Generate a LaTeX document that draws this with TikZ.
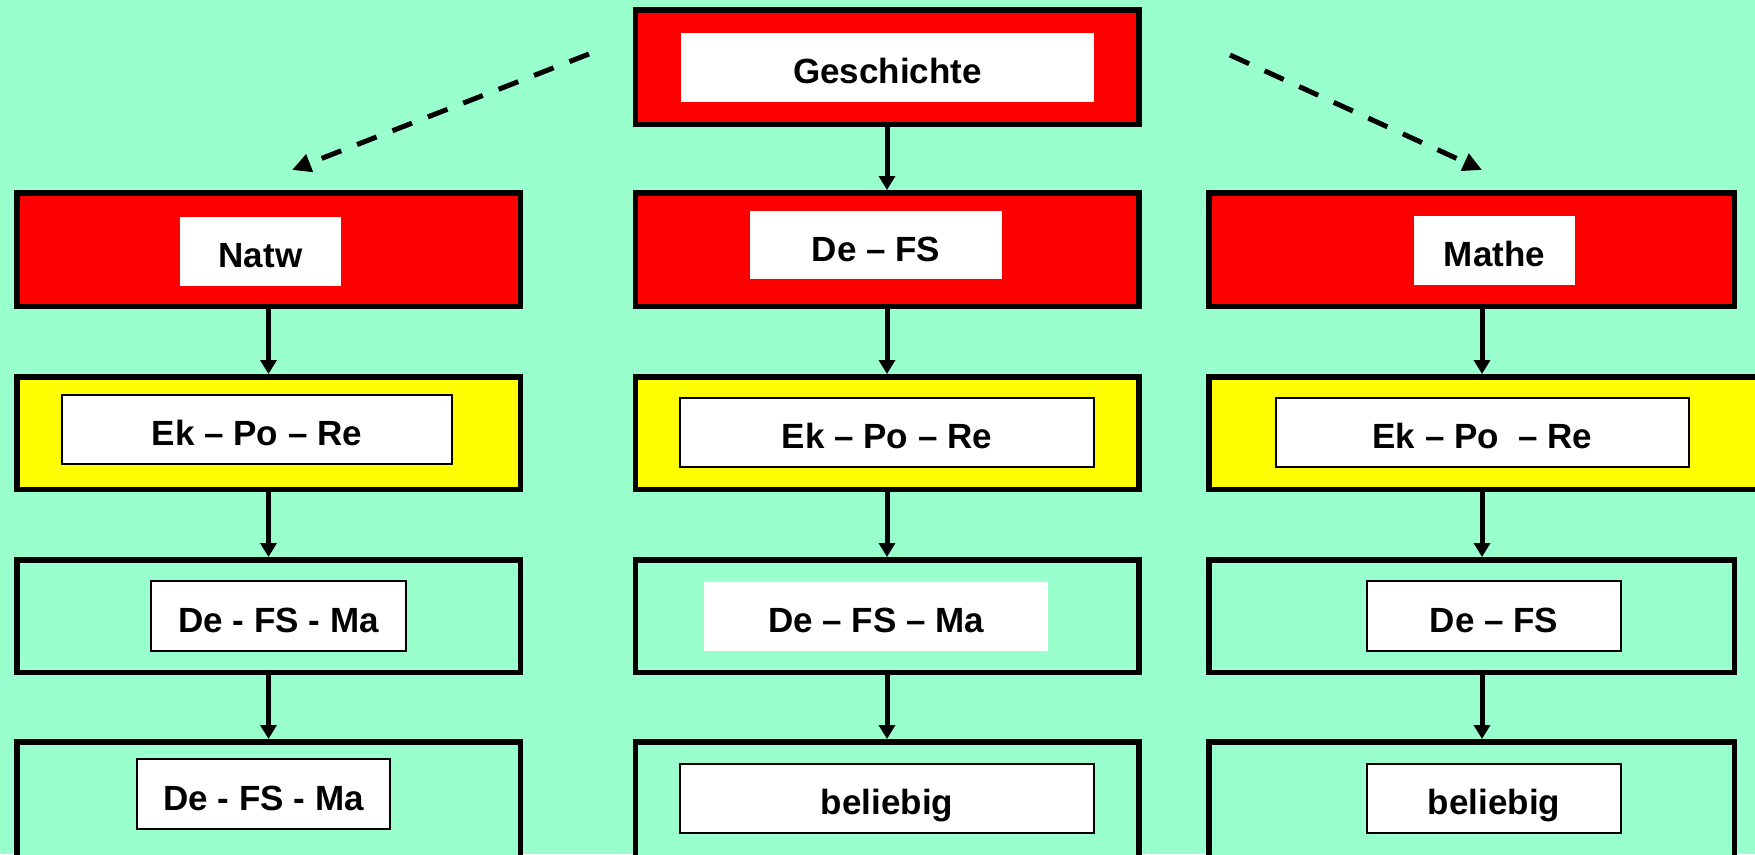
\documentclass[tikz,border=0pt]{standalone}
\usepackage{fontspec}
\setmainfont{Liberation Sans}
\usetikzlibrary{arrows.meta}
\definecolor{bg}{HTML}{99FFCC}
\definecolor{boxred}{HTML}{FF0000}
\definecolor{boxyellow}{HTML}{FFFF00}
\begin{document}
\begin{tikzpicture}[x=1pt,y=-1pt,
  outerbox/.style={draw=black, line width=5.5pt, inner sep=0pt},
  redbox/.style={outerbox, fill=boxred},
  yellowbox/.style={outerbox, fill=boxyellow},
  greenbox/.style={outerbox, fill=bg},
  txtbox/.style={fill=white, inner sep=0pt, font=\bfseries\fontsize{35}{40}\selectfont, text height=32pt, text depth=0pt},
  framedbox/.style={txtbox, draw=black, line width=1.5pt},
  flow/.style={line width=5pt, -{Triangle[length=14pt,width=16pt]}},
  dashflow/.style={line width=5pt, dash pattern=on 21pt off 17pt, -{Triangle[length=19pt,width=18pt]}}
]
\useasboundingbox (0,0) rectangle (1755,854);
\clip (0,0) rectangle (1755,854);
\fill[bg] (0,0) rectangle (1755,854);

% outer boxes
\node[redbox, minimum width=503.5pt, minimum height=114.5pt] (g) at (887,67) {};
\node[redbox, minimum width=503.5pt, minimum height=113.5pt] (l2) at (268.5,249.5) {};
\node[redbox, minimum width=503.5pt, minimum height=113.5pt] (m2) at (887,249.5) {};
\node[redbox, minimum width=525.5pt, minimum height=113.5pt] (r2) at (1471.5,249.5) {};
\node[yellowbox, minimum width=503.5pt, minimum height=112.5pt] (l3) at (268.5,433) {};
\node[yellowbox, minimum width=503.5pt, minimum height=112.5pt] (m3) at (887,433) {};
\node[yellowbox, minimum width=568.5pt, minimum height=112.5pt] (r3) at (1493,433) {};
\node[greenbox, minimum width=503.5pt, minimum height=112.5pt] (l4) at (268.5,616) {};
\node[greenbox, minimum width=503.5pt, minimum height=112.5pt] (m4) at (887,616) {};
\node[greenbox, minimum width=525.5pt, minimum height=112.5pt] (r4) at (1471.5,616) {};
\node[greenbox, minimum width=503.5pt, minimum height=125.5pt] (l5) at (268.5,804.5) {};
\node[greenbox, minimum width=503.5pt, minimum height=125.5pt] (m5) at (887,804.5) {};
\node[greenbox, minimum width=525.5pt, minimum height=125.5pt] (r5) at (1471.5,804.5) {};

% inner text boxes
\node[txtbox, minimum width=413pt, minimum height=69pt] (tg) at (887.5,67.5) {Geschichte};
\node[txtbox, minimum width=161pt, minimum height=69pt] (t2l) at (260.5,251.5) {Natw};
\node[txtbox, minimum width=252pt, minimum height=68pt] (t2m) at (876,245) {De – FS};
\node[txtbox, minimum width=161pt, minimum height=69pt] (t2r) at (1494.5,250.5) {Mathe};
\node[framedbox, minimum width=390pt, minimum height=69pt] (t3l) at (257,429.5) {Ek – Po – Re};
\node[framedbox, minimum width=414pt, minimum height=69pt] (t3m) at (887,432.5) {Ek – Po – Re};
\node[framedbox, minimum width=413pt, minimum height=69pt] (t3r) at (1482.5,432.5) {Ek – Po~ – Re};
\node[framedbox, minimum width=255pt, minimum height=70pt] (t4l) at (278.5,616) {De - FS - Ma\ };
\node[txtbox, minimum width=344pt, minimum height=69pt] (t4m) at (876,616.5) {De – FS – Ma};
\node[framedbox, minimum width=254pt, minimum height=70pt] (t4r) at (1494,616) {De – FS};
\node[framedbox, minimum width=253pt, minimum height=70pt] (t5l) at (263.5,794) {De - FS - Ma};
\node[framedbox, minimum width=414pt, minimum height=69pt] (t5m) at (887,798.5) {beliebig};
\node[framedbox, minimum width=254pt, minimum height=69pt] (t5r) at (1494,798.5) {beliebig};

% vertical connectors
\coordinate (rx) at (1482,0);
\draw[flow] (g.south) -- (m2.north);
\draw[flow] (l2.south) -- (l3.north);
\draw[flow] (l3.south) -- (l4.north);
\draw[flow] (l4.south) -- (l5.north);
\draw[flow] (m2.south) -- (m3.north);
\draw[flow] (m3.south) -- (m4.north);
\draw[flow] (m4.south) -- (m5.north);
\draw[flow] (r2.south -| rx) -- (r3.north -| rx);
\draw[flow] (r3.south -| rx) -- (r4.north -| rx);
\draw[flow] (r4.south -| rx) -- (r5.north -| rx);

% dashed connectors
\coordinate (dls) at (589,54);
\coordinate (dle) at (292,170);
\coordinate (drs) at (1230,55);
\coordinate (dre) at (1482,170);
\draw[dashflow] (dls) -- (dle);
\draw[dashflow] (drs) -- (dre);
\end{tikzpicture}
\end{document}
